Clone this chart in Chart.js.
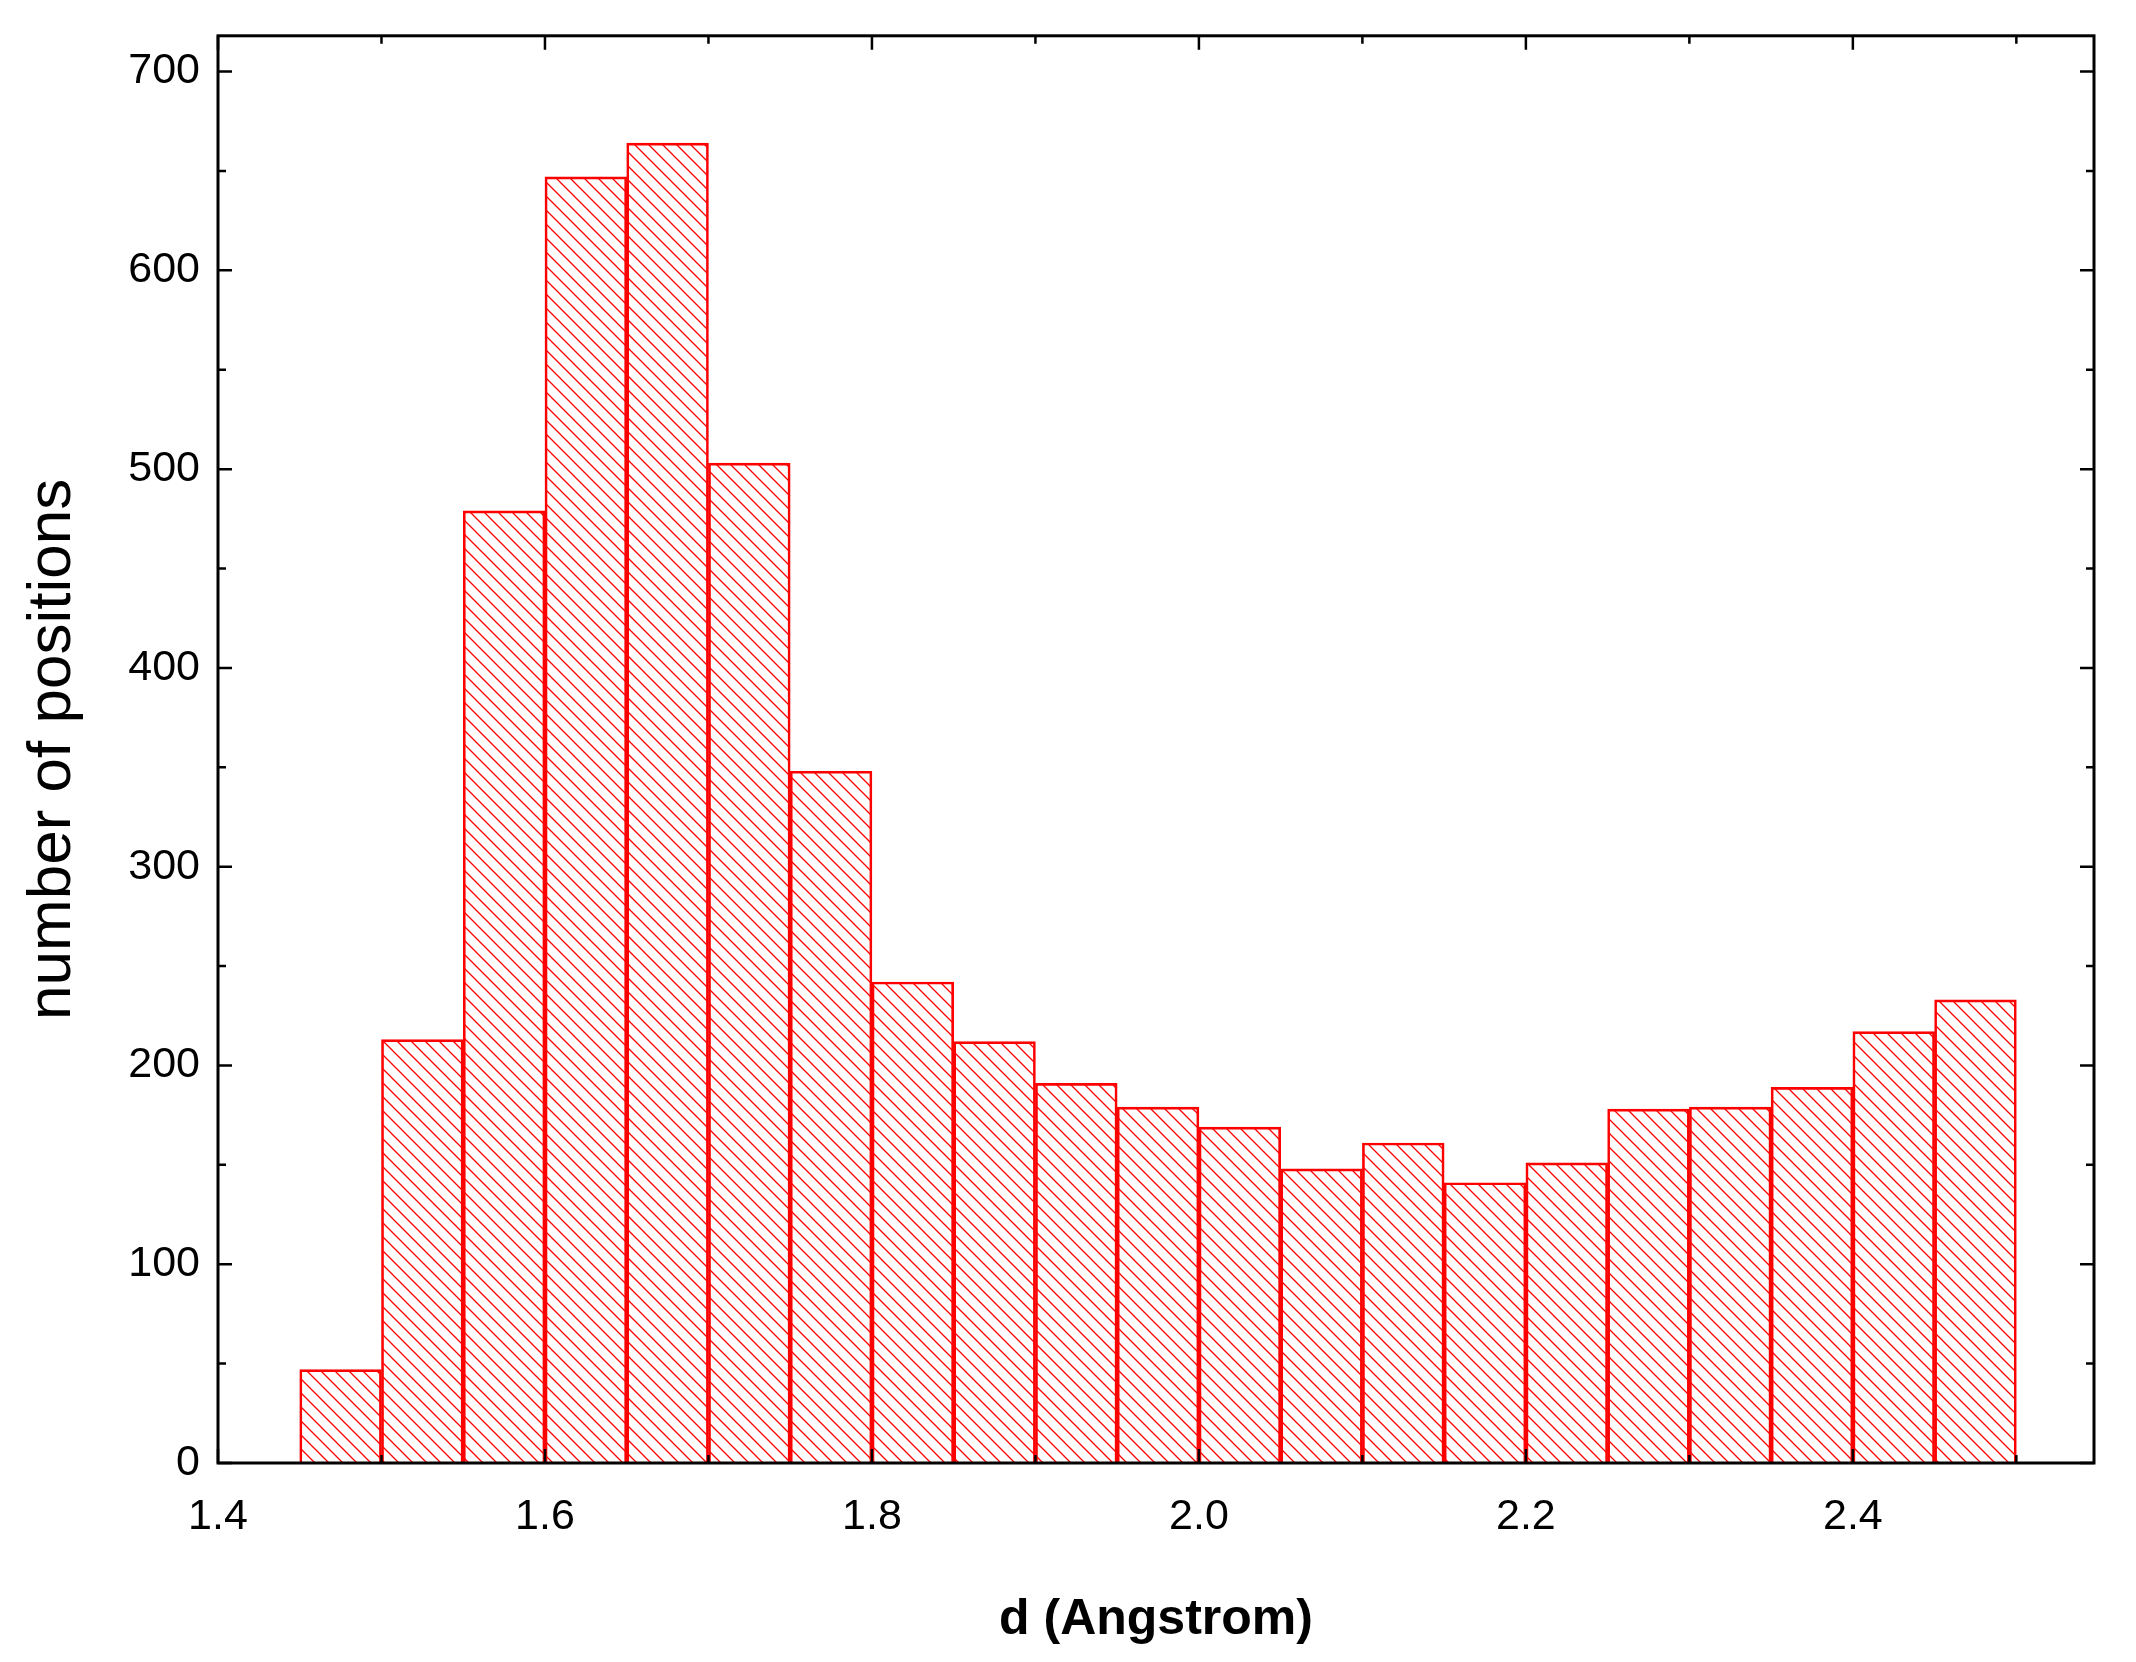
<!DOCTYPE html>
<html><head><meta charset="utf-8">
<script src="https://cdn.jsdelivr.net/npm/chart.js@4/dist/chart.umd.min.js"></script>
<style>html,body{margin:0;background:#fff}#wrap{width:2136px;height:1662px}</style>
</head><body><div id="wrap"><canvas id="hist"></canvas></div>
<script>
// histogram bins (centres) and counts
var binCentres = [1.475,1.525,1.575,1.625,1.675,1.725,1.775,1.825,1.875,1.925,1.975,2.025,2.075,2.125,2.175,2.225,2.275,2.325,2.375,2.425,2.475];
var counts = [47,213,479,647,664,503,348,242,212,191,179,169,148,161,141,151,178,179,189,217,233];
var xTicks = [1.4,1.6,1.8,2.0,2.2,2.4];
var yTicks = [0,100,200,300,400,500,600,700];

// red diagonal hatch pattern
var pc = document.createElement('canvas');
pc.width = 14; pc.height = 14;
var p = pc.getContext('2d');
p.strokeStyle = 'red'; p.lineWidth = 1.3;
p.beginPath();
p.moveTo(0,0); p.lineTo(14,14);
p.moveTo(-7,7); p.lineTo(7,21);
p.moveTo(7,-7); p.lineTo(21,7);
p.stroke();

var ctx = document.getElementById('hist').getContext('2d');
var hatch = ctx.createPattern(pc,'repeat');

// inner major/minor ticks on all four sides + frame
var frame = {
    id: 'frame',
    afterDraw: function(chart) {
        var c = chart.ctx, a = chart.chartArea, xs = chart.scales.x, ys = chart.scales.y;
        c.save();
        c.strokeStyle = '#000'; c.lineWidth = 3;
        c.strokeRect(a.left, a.top, a.right - a.left, a.bottom - a.top);
        c.lineWidth = 2.5;
        c.beginPath();
        for (var i = 0; i <= 11; i++) {
            var v = 1.4 + i * 0.1;
            var px = xs.getPixelForValue(v);
            var len = (i % 2 === 0) ? 14 : 8;
            c.moveTo(px, a.bottom); c.lineTo(px, a.bottom - len);
            c.moveTo(px, a.top); c.lineTo(px, a.top + len);
        }
        for (var y = 0; y <= 700; y += 50) {
            var py = ys.getPixelForValue(y);
            var len2 = (y % 100 === 0) ? 14 : 8;
            c.moveTo(a.left, py); c.lineTo(a.left + len2, py);
            c.moveTo(a.right, py); c.lineTo(a.right - len2, py);
        }
        c.stroke();
        c.restore();
    }
};

new Chart(ctx, {
    type: 'bar',
    data: {
        datasets: [{
            data: binCentres.map(function(x, i) { return {x: x, y: counts[i]}; }),
            backgroundColor: hatch,
            borderColor: 'red',
            borderWidth: 2,
            barPercentage: 1,
            categoryPercentage: 1
        }]
    },
    options: {
        responsive: true,
        maintainAspectRatio: false,
        animation: false,
        layout: {padding: {top: 33, right: 42, left: 12}},
        plugins: {legend: {display: false}, tooltip: {enabled: false}},
        scales: {
            x: {
                type: 'linear', min: 1.4, max: 2.5475, offset: false,
                afterBuildTicks: function(s) { s.ticks = xTicks.map(function(v) { return {value: v}; }); },
                afterFit: function(s) { s.height = 199; },
                grid: {display: false, offset: false},
                border: {display: false},
                ticks: {color: '#000', font: {family: 'Arial, Liberation Sans', size: 43}, padding: 20,
                    callback: function(v) { return v.toFixed(1); }},
                title: {display: true, text: 'd (Angstrom)', color: '#000',
                    font: {family: 'Arial, Liberation Sans', size: 50, weight: 'bold'}, padding: {top: 0, bottom: 12}}
            },
            y: {
                min: 0, max: 718,
                afterBuildTicks: function(s) { s.ticks = yTicks.map(function(v) { return {value: v}; }); },
                afterFit: function(s) { s.width = 206; },
                grid: {display: false},
                border: {display: false},
                ticks: {color: '#000', font: {family: 'Arial, Liberation Sans', size: 43}, padding: 10},
                title: {display: true, text: 'number of positions', color: '#000',
                    font: {family: 'Arial, Liberation Sans', size: 62}, padding: {bottom: 14}}
            }
        }
    },
    plugins: [frame]
});
</script>
</body></html>
